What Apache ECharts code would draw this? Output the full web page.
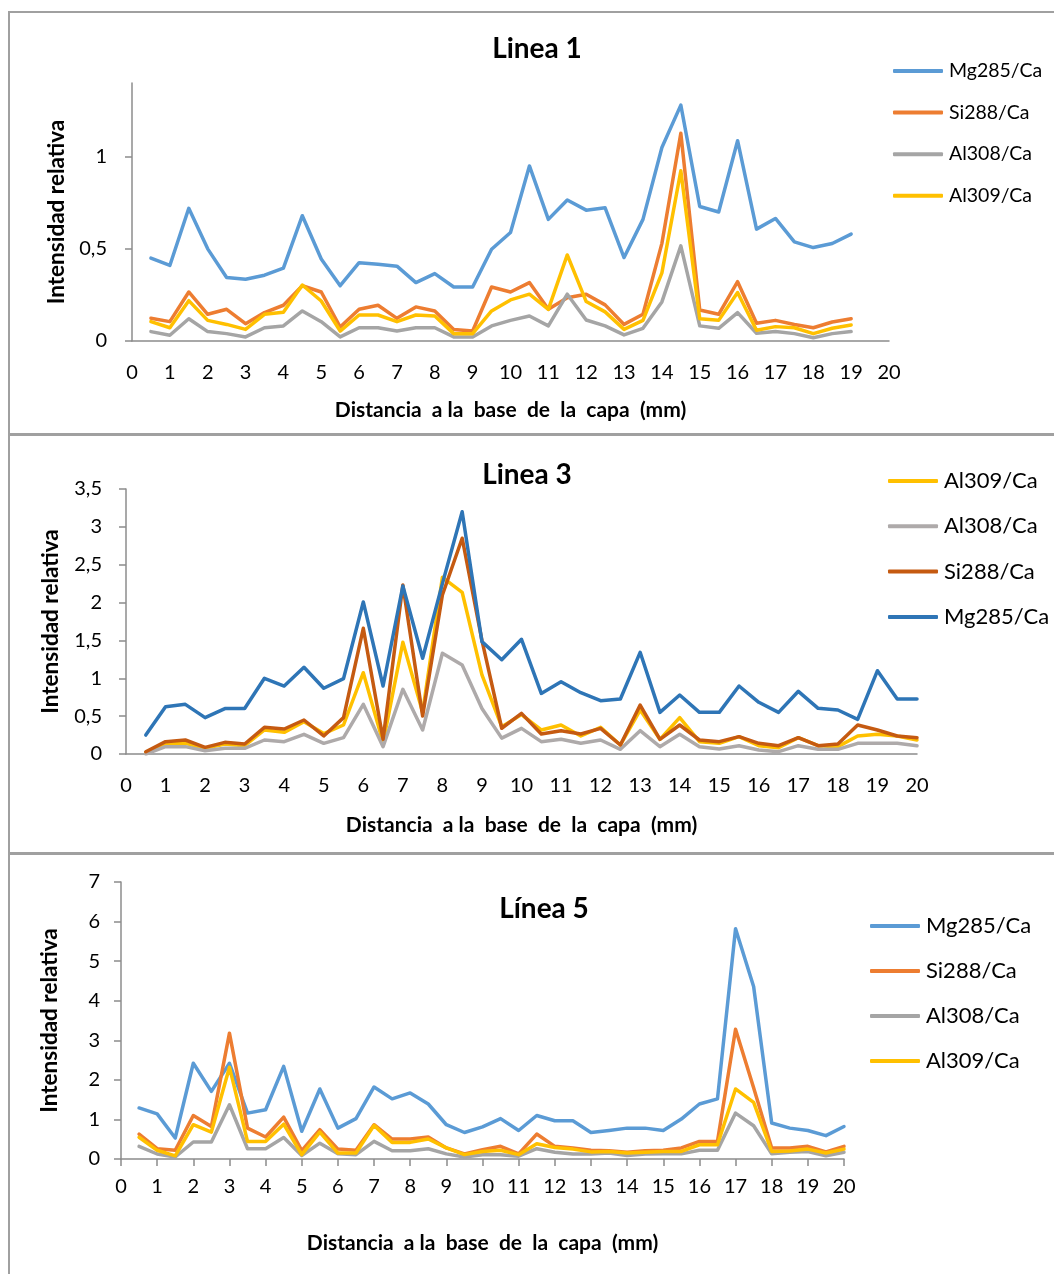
<!DOCTYPE html>
<html>
<head>
<meta charset="utf-8">
<script src="https://cdn.jsdelivr.net/npm/echarts@6/dist/echarts.min.js"></script>
<style>
html,body{margin:0;padding:0;background:#fff;}
#wrap{position:relative;width:1054px;height:1274px;overflow:hidden;}
.chart{position:absolute;left:0;width:1054px;}
.frame{position:absolute;border:2px solid #a0a0a0;box-sizing:border-box;}
</style>
</head>
<body>
<div id="wrap">
  <div class="frame" style="left:8px;top:11px;width:1060px;height:424px;"></div>
  <div class="frame" style="left:8px;top:434px;width:1060px;height:420px;"></div>
  <div class="frame" style="left:8px;top:853px;width:1060px;height:430px;"></div>
  <div id="c1" class="chart" style="top:0;height:434px;"></div>
  <div id="c2" class="chart" style="top:434px;height:420px;"></div>
  <div id="c3" class="chart" style="top:854px;height:420px;"></div>
</div>
<script>
// ---------- DATA ----------
const xLinea1 = [0.5,1,1.5,2,2.5,3,3.5,4,4.5,5,5.5,6,6.5,7,7.5,8,8.5,9,9.5,10,10.5,11,11.5,12,12.5,13,13.5,14,14.5,15,15.5,16,16.5,17,17.5,18,18.5,19];
const xLinea3 = [0.5,1,1.5,2,2.5,3,3.5,4,4.5,5,5.5,6,6.5,7,7.5,8,8.5,9,9.5,10,10.5,11,11.5,12,12.5,13,13.5,14,14.5,15,15.5,16,16.5,17,17.5,18,18.5,19,19.5,20];
const xLinea5 = [0.5,1,1.5,2,2.5,3,3.5,4,4.5,5,5.5,6,6.5,7,7.5,8,8.5,9,9.5,10,10.5,11,11.5,12,12.5,13,13.5,14,14.5,15,15.5,16,16.5,17,17.5,18,18.5,19,19.5,20];
const xTickLabels = [0,1,2,3,4,5,6,7,8,9,10,11,12,13,14,15,16,17,18,19,20];

// Linea 1
const mg285_L1 = [0.45,0.41,0.72,0.50,0.345,0.335,0.357,0.395,0.68,0.445, 0.30,0.425,0.417,0.406,0.317,0.366,0.293,0.293,0.498,0.589, 0.95,0.66,0.765,0.71,0.723,0.453,0.66,1.05,1.28,0.73, 0.70,1.087,0.607,0.665,0.538,0.507,0.529,0.58];
const si288_L1 = [0.123,0.105,0.266,0.145,0.172,0.094,0.154,0.194,0.30,0.266, 0.076,0.172,0.194,0.123,0.185,0.163,0.063,0.054,0.293,0.266, 0.317,0.172,0.235,0.254,0.196,0.09,0.145,0.53,1.127,0.168, 0.145,0.322,0.096,0.112,0.09,0.072,0.103,0.121];
const al308_L1 = [0.051,0.031,0.121,0.051,0.04,0.022,0.072,0.082,0.163,0.105, 0.022,0.072,0.072,0.054,0.072,0.072,0.022,0.022,0.082,0.112, 0.136,0.082,0.254,0.114,0.082,0.033,0.069,0.212,0.516,0.082, 0.069,0.154,0.042,0.051,0.04,0.018,0.04,0.051];
const al309_L1 = [0.105,0.072,0.219,0.112,0.09,0.063,0.145,0.156,0.304,0.217, 0.054,0.141,0.141,0.105,0.141,0.136,0.04,0.04,0.163,0.223, 0.254,0.172,0.467,0.214,0.158,0.063,0.112,0.37,0.924,0.121, 0.112,0.263,0.058,0.078,0.072,0.04,0.069,0.087];
const yTicks_L1 = [0,0.5,1];

// Linea 3
const mg285_L3 = [0.25,0.625,0.656,0.48,0.60,0.60,1.0,0.898,1.145,0.868, 0.995,2.008,0.898,2.219,1.264,2.25,3.2,1.484,1.245,1.515, 0.80,0.955,0.81,0.704,0.726,1.343,0.55,0.779,0.55,0.55, 0.898,0.683,0.55,0.828,0.603,0.581,0.458,1.10,0.726,0.726];
const si288_L3 = [0.03,0.163,0.185,0.088,0.154,0.132,0.352,0.33,0.449,0.238, 0.48,1.66,0.194,2.232,0.502,2.1,2.85,1.5,0.34,0.537, 0.264,0.308,0.264,0.339,0.119,0.647,0.194,0.383,0.185,0.163, 0.229,0.141,0.11,0.216,0.11,0.132,0.383,0.317,0.238,0.216];
const al308_L3 = [0.0,0.097,0.097,0.044,0.075,0.075,0.185,0.163,0.26,0.141, 0.216,0.656,0.097,0.854,0.317,1.33,1.175,0.60,0.21,0.339, 0.163,0.194,0.141,0.185,0.062,0.308,0.097,0.26,0.097,0.066, 0.11,0.053,0.031,0.11,0.062,0.062,0.141,0.141,0.141,0.11];
const al309_L3 = [0.018,0.128,0.141,0.075,0.132,0.11,0.317,0.286,0.427,0.27, 0.383,1.074,0.15,1.475,0.55,2.334,2.136,1.044,0.36,0.52, 0.317,0.383,0.238,0.352,0.119,0.58,0.194,0.48,0.163,0.141, 0.229,0.11,0.084,0.216,0.11,0.097,0.238,0.26,0.238,0.185];

// Linea 5
const mg285_L5 = [1.29,1.14,0.53,2.42,1.71,2.42,1.16,1.245,2.34,0.70, 1.77,0.78,1.02,1.82,1.52,1.67,1.39,0.866,0.67,0.81, 1.02,0.72,1.10,0.967,0.967,0.67,0.72,0.78,0.78,0.72, 1.01,1.39,1.52,5.82,4.36,0.91,0.78,0.72,0.59,0.82];
const si288_L5 = [0.63,0.26,0.22,1.10,0.82,3.18,0.78,0.556,1.06,0.21, 0.74,0.25,0.22,0.866,0.505,0.505,0.556,0.28,0.13,0.235, 0.32,0.13,0.63,0.32,0.28,0.22,0.21,0.17,0.21,0.22, 0.28,0.445,0.445,3.28,1.8,0.28,0.28,0.32,0.18,0.32];
const al308_L5 = [0.32,0.126,0.05,0.43,0.43,1.37,0.26,0.26,0.545,0.09, 0.40,0.13,0.11,0.445,0.21,0.21,0.26,0.13,0.05,0.11, 0.11,0.07,0.26,0.17,0.126,0.126,0.15,0.09,0.126,0.13, 0.13,0.22,0.22,1.16,0.84,0.13,0.17,0.19,0.08,0.17];
const al309_L5 = [0.55,0.22,0.08,0.866,0.68,2.32,0.445,0.445,0.88,0.11, 0.68,0.15,0.15,0.85,0.42,0.42,0.505,0.28,0.11,0.19, 0.22,0.11,0.386,0.29,0.25,0.18,0.19,0.15,0.17,0.19, 0.19,0.36,0.36,1.77,1.43,0.19,0.2,0.25,0.15,0.25];

const seriesNames = ['Mg285/Ca','Si288/Ca','Al308/Ca','Al309/Ca'];
const xTitle = 'Distancia  a la  base  de  la  capa  (mm)';
const yTitle = 'Intensidad relativa';

// ---------- HELPERS ----------
const FONT = 'Lato, "Open Sans", sans-serif';
const AXIS_COLOR = '#8c8c8c';
const fmt = v => String(+(+v).toFixed(2)).replace('.', ',');
const pair = (xs, ys) => xs.map((x, i) => [x, ys[i]]);

function lineSeries(name, xs, ys, color) {
  return {
    type: 'line', name: name, data: pair(xs, ys),
    showSymbol: false, symbol: 'none', smooth: false,
    lineStyle: { color: color, width: 3.5, cap: 'round', join: 'round' },
    itemStyle: { color: color },
    emphasis: { disabled: true }, animation: false
  };
}

function buildOption(cfg) {
  return {
    animation: false,
    textStyle: { fontFamily: FONT },
    graphic: [{
      type: 'text', x: cfg.titleX, y: cfg.titleY,
      style: { text: cfg.title, font: 'bold 28px ' + FONT, fill: '#000', align: 'center', verticalAlign: 'middle' }
    }],
    legend: {
      orient: 'vertical', left: cfg.legLeft, top: cfg.legTop,
      icon: 'roundRect', itemWidth: 50, itemHeight: 4, itemGap: cfg.legGap,
      textStyle: { fontSize: cfg.legFont, lineHeight: 22, color: '#000', fontFamily: FONT, padding: [0,0,0,1] },
      data: cfg.legOrder, selectedMode: false
    },
    grid: { left: cfg.grid[0], top: cfg.grid[1], width: cfg.grid[2], height: cfg.grid[3], containLabel: false },
    xAxis: {
      type: 'value', min: 0, max: 20, interval: 1,
      name: xTitle, nameLocation: 'middle', nameGap: cfg.xNameGap,
      nameTextStyle: { fontSize: 21, fontWeight: 'bold', color: '#000', fontFamily: FONT },
      axisLine: { show: true, lineStyle: { color: AXIS_COLOR, width: 1.5 } },
      axisTick: { show: cfg.xTicks, length: 7, inside: false, lineStyle: { color: AXIS_COLOR, width: 1.5 } },
      splitLine: { show: false },
      axisLabel: { fontSize: 20, color: '#000', margin: cfg.xLabMargin, fontFamily: FONT,
        customValues: xTickLabels, formatter: v => fmt(v) }
    },
    yAxis: {
      type: 'value', min: 0, max: cfg.yMax, interval: cfg.yInt,
      name: yTitle, nameLocation: 'middle', nameGap: cfg.yNameGap,
      nameTextStyle: { fontSize: 22.5, fontWeight: 'bold', color: '#000', fontFamily: FONT },
      axisLine: { show: true, lineStyle: { color: AXIS_COLOR, width: 1.5 } },
      axisTick: { show: true, length: 7, inside: false, lineStyle: { color: AXIS_COLOR, width: 1.5 },
        customValues: cfg.yTicks },
      splitLine: { show: false },
      axisLabel: { fontSize: 20, color: '#000', margin: cfg.yLabMargin, fontFamily: FONT,
        customValues: cfg.yTicks, formatter: v => fmt(v) }
    },
    series: cfg.series
  };
}

// ---------- CHART 1: Linea 1 ----------
const c1 = echarts.init(document.getElementById('c1'), null, { renderer: 'canvas' });
c1.setOption(buildOption({
  title: 'Linea 1', titleX: 537, titleY: 49,
  legLeft: 888, legTop: 55, legGap: 19.6, legFont: 19.5, legOrder: seriesNames,
  grid: [132, 83, 757, 258],
  xNameGap: 59, xLabMargin: 22, xTicks: false,
  yMax: 1.4, yInt: 0.5, yTicks: yTicks_L1, yNameGap: 64, yLabMargin: 25,
  series: [
    lineSeries('Mg285/Ca', xLinea1, mg285_L1, '#5B9BD5'),
    lineSeries('Si288/Ca', xLinea1, si288_L1, '#ED7D31'),
    lineSeries('Al308/Ca', xLinea1, al308_L1, '#A5A5A5'),
    lineSeries('Al309/Ca', xLinea1, al309_L1, '#FFC000')
  ]
}));

// ---------- CHART 2: Linea 3 ----------
const c2 = echarts.init(document.getElementById('c2'), null, { renderer: 'canvas' });
c2.setOption(buildOption({
  title: 'Linea 3', titleX: 527, titleY: 41,
  legLeft: 883, legTop: 31, legGap: 23.3, legFont: 22,
  legOrder: ['Al309/Ca','Al308/Ca','Si288/Ca','Mg285/Ca'],
  grid: [126, 55, 791, 265],
  xNameGap: 61, xLabMargin: 22, xTicks: false,
  yMax: 3.5, yInt: 0.5, yTicks: [0,0.5,1,1.5,2,2.5,3,3.5], yNameGap: 64, yLabMargin: 24,
  series: [
    lineSeries('Al309/Ca', xLinea3, al309_L3, '#FFC000'),
    lineSeries('Al308/Ca', xLinea3, al308_L3, '#AEAAAA'),
    lineSeries('Si288/Ca', xLinea3, si288_L3, '#C55A11'),
    lineSeries('Mg285/Ca', xLinea3, mg285_L3, '#2E75B6')
  ]
}));

// ---------- CHART 3: Línea 5 ----------
const c3 = echarts.init(document.getElementById('c3'), null, { renderer: 'canvas' });
c3.setOption(buildOption({
  title: 'Línea 5', titleX: 544, titleY: 55,
  legLeft: 865, legTop: 56, legGap: 23, legFont: 22, legOrder: seriesNames,
  grid: [121, 28, 723, 277],
  xNameGap: 74, xLabMargin: 18, xTicks: true,
  yMax: 7, yInt: 1, yTicks: [0,1,2,3,4,5,6,7], yNameGap: 60, yLabMargin: 21,
  series: [
    lineSeries('Mg285/Ca', xLinea5, mg285_L5, '#5B9BD5'),
    lineSeries('Si288/Ca', xLinea5, si288_L5, '#ED7D31'),
    lineSeries('Al308/Ca', xLinea5, al308_L5, '#A5A5A5'),
    lineSeries('Al309/Ca', xLinea5, al309_L5, '#FFC000')
  ]
}));
</script>
</body>
</html>
